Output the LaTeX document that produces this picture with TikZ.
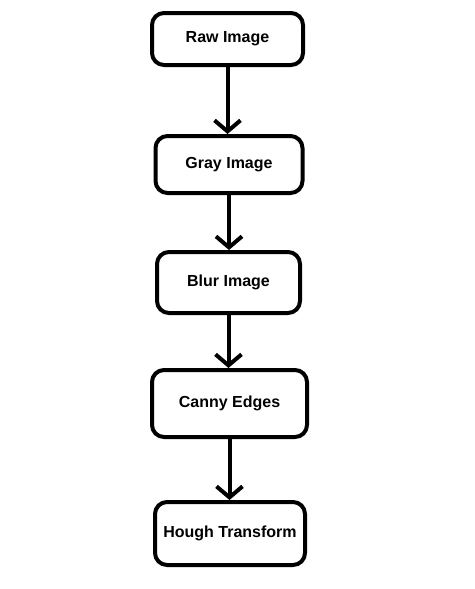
\documentclass[tikz,border=0pt]{standalone}
\usepackage{fontspec}
\setmainfont{Liberation Sans}
\usetikzlibrary{arrows.meta}

\tikzset{
    stagebox/.style={draw, line width=4pt, rounded corners=12pt, align=center,
        font=\fontsize{16}{19}\selectfont\bfseries, inner sep=0pt},
    flowarrow/.style={line width=4pt, -{Straight Barb[length=11pt,width=26pt]}}
}

\begin{document}
\begin{tikzpicture}[x=1pt, y=-1pt]
    %% page frame
    \useasboundingbox (0,0) rectangle (474,589);
    %% stages
    \node[stagebox, minimum width=151pt, minimum height=52pt] (raw) at (227.5,39) {Raw Image};
    \node[stagebox, minimum width=147pt, minimum height=57pt] (gray) at (229,164.5) {Gray Image};
    \node[stagebox, minimum width=143pt, minimum height=61pt] (blur) at (228.5,282.5) {Blur Image};
    \node[stagebox, minimum width=155pt, minimum height=67pt] (canny) at (229.5,403.5) {Canny Edges};
    \node[stagebox, minimum width=150pt, minimum height=63pt] (hough) at (230,533.5) {Hough Transform};
    %% arrows
    \draw[flowarrow] (raw.south) -- (raw.south |- gray.north);
    \draw[flowarrow] (gray.south) -- (gray.south |- blur.north);
    \draw[flowarrow] (blur.south) -- (blur.south |- canny.north);
    \draw[flowarrow] (canny.south) -- (canny.south |- hough.north);
\end{tikzpicture}
\end{document}
